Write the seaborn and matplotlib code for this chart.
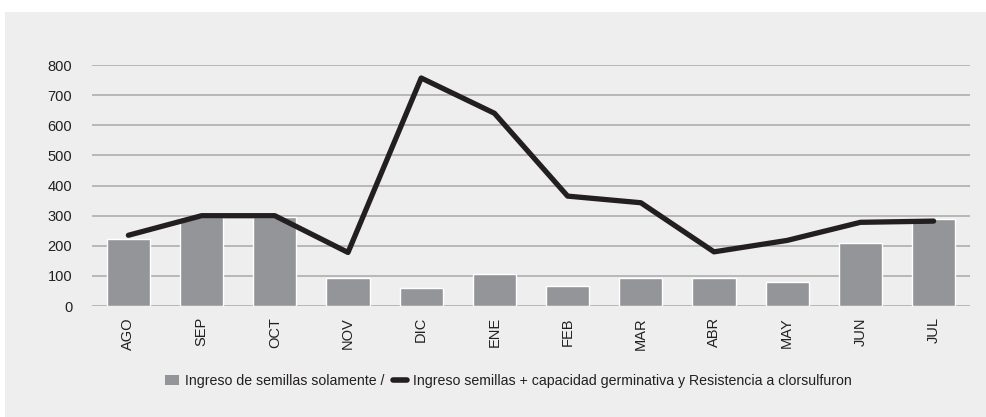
import matplotlib
matplotlib.use("Agg")
import matplotlib.pyplot as plt
import seaborn as sns
import numpy as np
from matplotlib.patches import Rectangle
from matplotlib.lines import Line2D

# data
months = ["AGO", "SEP", "OCT", "NOV", "DIC", "ENE", "FEB", "MAR", "ABR", "MAY", "JUN", "JUL"]
semillas = [222, 296, 296, 93, 60, 105, 65, 94, 94, 80, 210, 288]
semillas_cap = [235, 300, 300, 178, 757, 640, 365, 343, 180, 218, 278, 282]
yticks = [0, 100, 200, 300, 400, 500, 600, 700, 800]

label_bar = "Ingreso de semillas solamente /"
label_line = "Ingreso semillas + capacidad germinativa y Resistencia a clorsulfuron"

sns.set_style("white")
plt.rcParams["font.family"] = ["Liberation Sans", "DejaVu Sans"]

BAR_COLOR = "#939598"
LINE_COLOR = "#231f20"
PANEL = "#eeeeee"

fig = plt.figure(figsize=(9.87, 4.17), dpi=100)
fig.patch.set_facecolor("white")
# gray panel behind the chart
fig.patches.append(Rectangle((5 / 987, 0), 1, 1 - 12 / 417, transform=fig.transFigure,
                             facecolor=PANEL, edgecolor="none", zorder=-1))

ax = fig.add_axes([0.093, 0.266, 0.890, 0.578])
ax.set_facecolor("none")

sns.barplot(x=months, y=semillas, color=BAR_COLOR, width=0.59, saturation=1, ax=ax, zorder=2)
sns.lineplot(x=np.arange(len(months)), y=semillas_cap, color=LINE_COLOR, linewidth=3.8,
             solid_capstyle="round", ax=ax, zorder=3)

ax.set_ylim(0, 800)
ax.set_xlim(-0.5, len(months) - 0.5)
ax.set_yticks(yticks)
ax.set_xticks(range(len(months)))
ax.set_xticklabels(months, rotation=90)
ax.tick_params(axis="both", length=0, labelsize=10.5, colors="#231f20")
ax.tick_params(axis="x", pad=8)
ax.tick_params(axis="y", pad=14)
ax.yaxis.grid(True, color="#b3b3b3", linewidth=1.3, zorder=0)
ax.set_axisbelow(True)
for s in ax.spines.values():
    s.set_visible(False)
ax.set_xlabel("")
ax.set_ylabel("")
if ax.get_legend():
    ax.get_legend().remove()

handles = [Rectangle((0, 0), 1, 1, facecolor=BAR_COLOR, edgecolor="none"),
           Line2D([0], [0], color=LINE_COLOR, linewidth=4, solid_capstyle="round")]
fig.legend(handles, [label_bar, label_line], loc="center", bbox_to_anchor=(0.515, 0.087),
           ncol=2, frameon=False, fontsize=10.2, handlelength=1.0, handletextpad=0.4,
           columnspacing=0.6, labelcolor="#231f20")

fig.savefig("out.png", dpi=100, facecolor=fig.get_facecolor())
